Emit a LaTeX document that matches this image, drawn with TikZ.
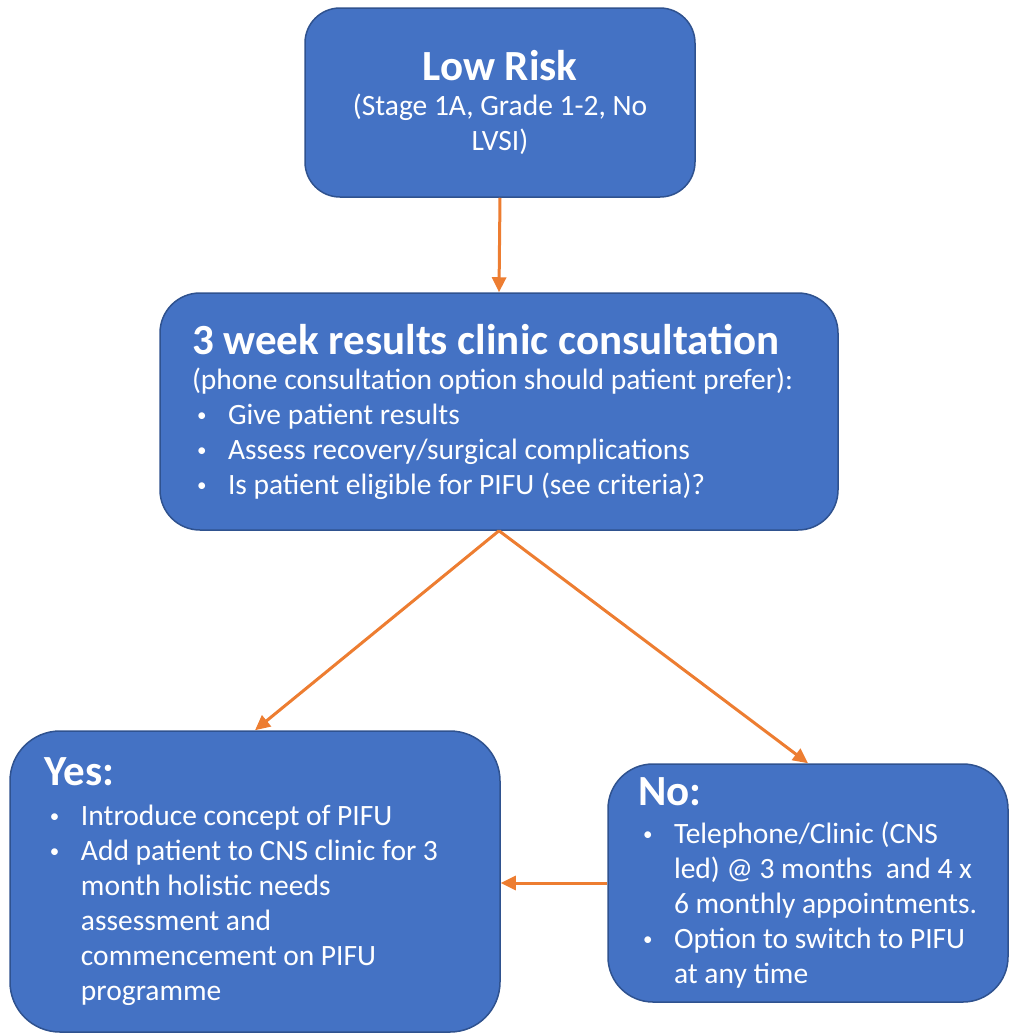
\documentclass[tikz,border=0pt]{standalone}
\usepackage{fontspec}
\setmainfont{Carlito}
\usepackage{tikz}
\usetikzlibrary{arrows.meta}

\definecolor{boxblue}{HTML}{4472C4}
\definecolor{boxedge}{HTML}{2F528F}
\definecolor{flow}{HTML}{ED7D31}

\newcommand\headfont{\fontsize{43}{50}\selectfont\bfseries\spaceskip=0.226em\relax}
\newcommand\bodyfont{\fontsize{29.5}{35}\selectfont\spaceskip=0.226em\relax}
\newcommand\bitem{\par\noindent\hangindent=36pt\hangafter=1\makebox[36pt][l]{\hspace{5pt}\raisebox{3pt}{\fontsize{19}{19}\selectfont\textbullet}}}

\tikzset{
  stagebox/.style={draw=boxedge, fill=boxblue, line width=1.5pt, text=white, inner ysep=0pt},
  flowarrow/.style={draw=flow, line width=3pt, -{Triangle[length=15pt,width=14pt]}}
}

\begin{document}
\begin{tikzpicture}[x=1pt,y=-1pt]
\useasboundingbox (0,0) rectangle (1009,1034);

% boxes
\node[stagebox, rounded corners=35pt, inner xsep=15pt, text width=360pt, minimum height=189pt, align=center] (lowrisk) at (500,102.5)
  {{\headfont Low Risk\par}\bodyfont (Stage 1A, Grade 1-2, No\\ LVSI)\par};
\node[stagebox, rounded corners=40pt, inner xsep=20pt, text width=638pt, minimum height=237pt, align=left] (consult) at (499,411.5)
  {\parindent=0pt\leftskip=12pt
   {\headfont 3 week results clinic consultation\par}
   \bodyfont (phone consultation option should patient prefer):
   \bitem Give patient results
   \bitem Assess recovery/surgical complications
   \bitem Is patient eligible for PIFU (see criteria)?\par};
\node[stagebox, rounded corners=50pt, inner xsep=20pt, text width=450pt, minimum height=301pt, align=left] (yes) at (255,881.5)
  {\parindent=0pt\leftskip=15pt
   {\headfont Yes:\par}\vspace{5pt}
   \bodyfont
   \bitem Introduce concept of PIFU
   \bitem Add patient to CNS clinic for 3\newline month holistic needs\newline assessment and\newline commencement on PIFU\newline programme\par};
\node[stagebox, rounded corners=45pt, inner xsep=15pt, text width=370pt, minimum height=238pt, align=left] (no) at (808,883)
  {\parindent=0pt\leftskip=15pt
   {\headfont No:\par}\vspace{3pt}
   \bodyfont
   \bitem Telephone/Clinic (CNS\newline led) @ 3 months\ \ and 4 x\newline 6 monthly appointments.
   \bitem Option to switch to PIFU\newline at any time\par};

% arrows
\draw[flowarrow] (lowrisk.south) -- (consult.north);
\draw[flowarrow] (consult.south) -- (yes.north);
\draw[flowarrow] (consult.south) -- (no.north);
\draw[flowarrow] (no.west) -- (no.west -| yes.east);
\end{tikzpicture}
\end{document}
